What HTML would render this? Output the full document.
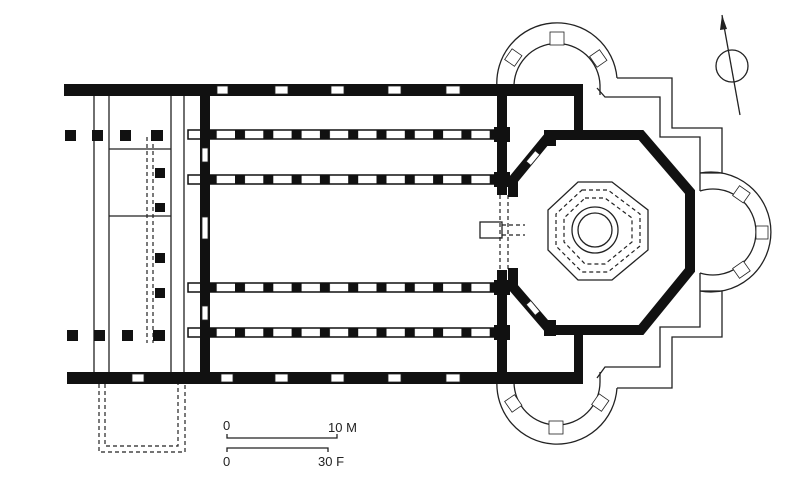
<!DOCTYPE html>
<html><head><meta charset="utf-8"><style>html,body{margin:0;padding:0;background:#fff}svg{display:block}</style></head>
<body>
<svg width="810" height="483" viewBox="0 0 810 483" xmlns="http://www.w3.org/2000/svg">
<defs>
<pattern id="col" patternUnits="userSpaceOnUse" x="235" y="0" width="28.3" height="500">
<rect x="0" y="0" width="28.3" height="500" fill="#fff"/>
<rect x="0" y="0" width="10" height="500" fill="#111"/>
</pattern>
</defs>
<rect width="810" height="483" fill="#fff"/>
<g fill="none" stroke="#222" stroke-width="1.3">
<path d="M497,88 A60,60 0 0 1 617,78"/>
<path d="M514,88 A43,43 0 0 1 600,85 L600,95"/>
<path d="M497,380 A60,60 0 0 0 617,388"/>
<path d="M514,382 A43,43 0 0 0 600,382 L600,372"/>
<path d="M700,173 A60,60 0 1 1 700,291"/>
<path d="M700,191 A43,43 0 1 1 700,273"/>
<polyline points="617,78 672,78 672,128 722,128 722,173 700,173"/>
<polyline points="597,88 605,97 660,97 660,137 700,137 700,191"/>
<polyline points="617,388 672,388 672,337 722,337 722,291 700,291"/>
<polyline points="597,378 605,367 660,367 660,327 700,327 700,273"/>
<line x1="94" y1="96" x2="94" y2="372"/><line x1="109" y1="96" x2="109" y2="372"/>
<line x1="171" y1="96" x2="171" y2="372"/><line x1="184" y1="96" x2="184" y2="372"/>
<line x1="109" y1="149" x2="171" y2="149"/><line x1="109" y1="216" x2="171" y2="216"/>
<circle cx="595" cy="230" r="17"/><circle cx="595" cy="230" r="23"/>
<polygon points="578,182 612,182 648,210 648,250 612,280 578,280 548,250 548,210"/>
<circle cx="732" cy="66" r="16"/>
<line x1="722" y1="15" x2="740" y2="115"/>
<polyline points="227,434 227,438 337,438 337,434"/>
<polyline points="227,452 227,448 328,448 328,452"/>
<rect x="480" y="222" width="22" height="16"/>
</g>
<g fill="none" stroke="#222" stroke-width="1.2" stroke-dasharray="4,3">
<polygon points="582,190 608,190 640,214 640,246 608,272 582,272 556,246 556,214"/>
<polygon points="585,198 605,198 632,218 632,242 605,264 585,264 564,242 564,218"/>
<line x1="147" y1="137" x2="147" y2="343"/><line x1="153" y1="137" x2="153" y2="343"/>
<polyline points="99,384 99,452 185,452 185,384"/>
<polyline points="105,384 105,446 178,446 178,384"/>
<line x1="500" y1="195" x2="500" y2="270"/><line x1="508" y1="195" x2="508" y2="270"/>
<line x1="502" y1="225" x2="525" y2="225"/><line x1="502" y1="235" x2="525" y2="235"/>
</g>
<polygon points="722,15 720,30 727,29" fill="#222"/>
<g fill="#111">
<rect x="64" y="84" width="519" height="12"/>
<rect x="67" y="372" width="516" height="12"/>
<rect x="200" y="96" width="10" height="276"/>
<rect x="497" y="96" width="10" height="99"/>
<rect x="497" y="270" width="10" height="102"/>
<rect x="574" y="84" width="9" height="50"/>
<rect x="574" y="332" width="9" height="45"/>
<rect x="544" y="130" width="12" height="16"/>
<rect x="544" y="320" width="12" height="16"/>
<rect x="65" y="130" width="11" height="11"/><rect x="92" y="130" width="11" height="11"/>
<rect x="120" y="130" width="11" height="11"/><rect x="151" y="130" width="12" height="11"/>
<rect x="67" y="330" width="11" height="11"/><rect x="94" y="330" width="11" height="11"/>
<rect x="122" y="330" width="11" height="11"/><rect x="153" y="330" width="12" height="11"/>
<rect x="155" y="168" width="10" height="10"/><rect x="155" y="203" width="10" height="9"/>
<rect x="155" y="253" width="10" height="10"/><rect x="155" y="288" width="10" height="10"/>
</g>
<polyline points="513,197 513,180 550,135 641,135 690,192 690,270 641,330 550,330 513,287 513,268" fill="none" stroke="#111" stroke-width="10" stroke-linejoin="miter"/>
<g fill="#fff" stroke="#222" stroke-width="0.8">
<rect x="217" y="86" width="11" height="8"/><rect x="275" y="86" width="13" height="8"/>
<rect x="331" y="86" width="13" height="8"/><rect x="388" y="86" width="13" height="8"/>
<rect x="446" y="86" width="14" height="8"/><rect x="221" y="374" width="12" height="8"/>
<rect x="275" y="374" width="13" height="8"/><rect x="331" y="374" width="13" height="8"/>
<rect x="388" y="374" width="13" height="8"/><rect x="446" y="374" width="14" height="8"/>
<rect x="132" y="374" width="12" height="8"/>
<rect x="202" y="148" width="6" height="14"/><rect x="202" y="217" width="6" height="22"/>
<rect x="202" y="306" width="6" height="14"/>
<rect x="530" y="151" width="6" height="14" transform="rotate(40 533 158)"/>
<rect x="530" y="301" width="6" height="14" transform="rotate(-40 533 308)"/>
<rect x="550" y="32" width="14" height="13"/>
<rect x="507" y="52" width="13" height="12" transform="rotate(-55 513 58)"/>
<rect x="592" y="52" width="13" height="12" transform="rotate(55 598 58)"/>
<rect x="549" y="421" width="14" height="13"/>
<rect x="507" y="397" width="13" height="12" transform="rotate(55 513 403)"/>
<rect x="594" y="397" width="13" height="12" transform="rotate(-55 600 403)"/>
<rect x="735" y="188" width="13" height="12" transform="rotate(35 741 194)"/>
<rect x="756" y="226" width="12" height="13"/>
<rect x="735" y="264" width="13" height="12" transform="rotate(-35 741 270)"/>
</g>
<g stroke="#111" stroke-width="1.5" fill="url(#col)">
<rect x="188" y="130" width="309" height="9"/>
<rect x="188" y="175" width="309" height="9"/>
<rect x="188" y="283" width="309" height="9"/>
<rect x="188" y="328" width="309" height="9"/>
</g>
<g fill="#111">
<rect x="200" y="128" width="10" height="13"/><rect x="200" y="173" width="10" height="13"/>
<rect x="200" y="281" width="10" height="13"/><rect x="200" y="326" width="10" height="13"/>
<rect x="494" y="127" width="16" height="15"/><rect x="494" y="172" width="16" height="15"/>
<rect x="494" y="280" width="16" height="15"/><rect x="494" y="325" width="16" height="15"/>
</g>
<g font-family="Liberation Sans, sans-serif" font-size="13" fill="#222">
<text x="223" y="430">0</text>
<text x="328" y="432">10 M</text>
<text x="223" y="466">0</text>
<text x="318" y="466">30 F</text>
</g>
</svg>
</body></html>
